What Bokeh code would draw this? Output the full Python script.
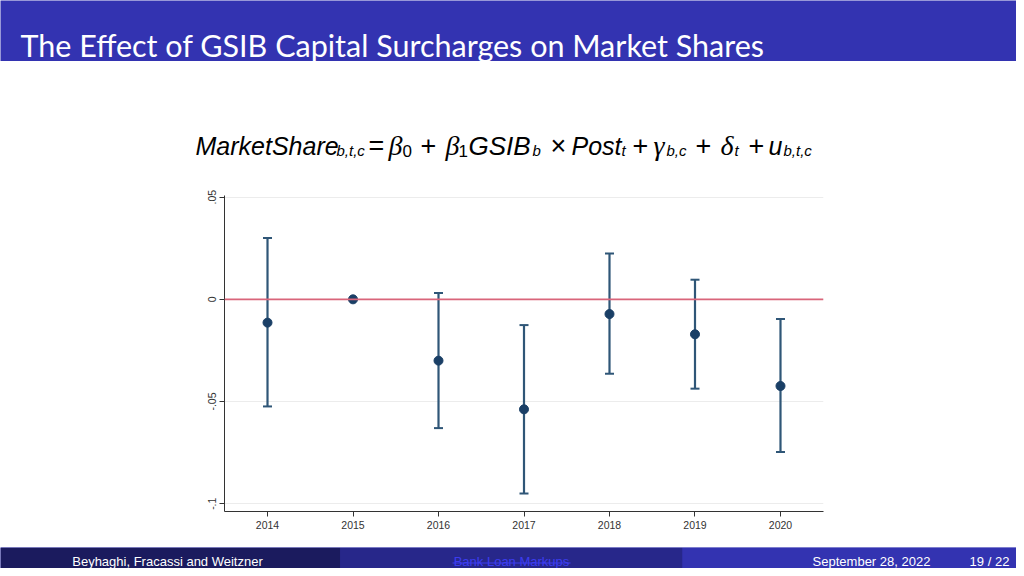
import numpy as np
from bokeh.plotting import figure
from bokeh.layouts import column
from bokeh.models import Range1d, FixedTicker, CustomJSTickFormatter, ColumnDataSource, Whisker, TeeHead, Span
from bokeh.core.properties import value
from bokeh.embed import file_html
from bokeh.resources import INLINE

# ---------------- data ----------------
years = [2014, 2015, 2016, 2017, 2018, 2019, 2020]
coef = [-0.0114, 0.0, -0.0300, -0.0538, -0.0072, -0.0171, -0.0424]
ci_low = [-0.0524, None, -0.0630, -0.0950, -0.0364, -0.0437, -0.0747]
ci_high = [0.0300, None, 0.0031, -0.0126, 0.0224, 0.0096, -0.0096]
y_ticks = [-0.1, -0.05, 0.0, 0.05]
x_ticks = years

title_text = "The Effect of GSIB Capital Surcharges on Market Shares"
footer_left = "Beyhaghi, Fracassi and Weitzner"
footer_mid = "Bank Loan Markups"
footer_date = "September 28, 2022"
footer_page = "19 / 22"

BANNER = "#3333B1"
NAVY = "#1a3f66"
BAR = "#2f5677"
W = 1016

def blank(h, yr):
    p = figure(width=W, height=h, output_backend="svg", toolbar_location=None,
               x_range=Range1d(0, W), y_range=Range1d(*yr),
               min_border=0, min_border_left=0, min_border_right=0,
               min_border_top=0, min_border_bottom=0, frame_align=False)
    p.axis.visible = False
    p.grid.visible = False
    p.outline_line_color = None
    p.title.visible = False
    return p

# ---------------- header ----------------
head = blank(61, (61, 0))
head.background_fill_color = BANNER
head.border_fill_color = BANNER
head.text(x=[20], y=[44], text=[title_text], text_color="white",
          text_font=value("Lato"), text_font_size="30.5px",
          text_baseline="alphabetic", text_align="left")

# ---------------- formula ----------------
form = blank(119, (180, 61))
form.background_fill_color = "white"
form.border_fill_color = "white"
MB, SB = 145, 150
SANS, SERIF = "Liberation Sans", "Liberation Serif"
pieces = [
    # (x, y, text, font, style, size)
    (195, MB, "MarketShare", SANS, "italic", "25px"),
    (336, SB, "b,t,c", SANS, "italic", "15px"),
    (368, MB, "=", SANS, "normal", "27px"),
    (388, MB, "\u03b2", SERIF, "italic", "28px"),
    (402, SB, "0", SANS, "normal", "17px"),
    (420, MB, "+", SANS, "normal", "27px"),
    (445, MB, "\u03b2", SERIF, "italic", "28px"),
    (458, SB, "1", SANS, "normal", "17px"),
    (468, MB, "GSIB", SANS, "italic", "26px"),
    (532, SB, "b", SANS, "italic", "15px"),
    (550, MB, "\u00d7", SANS, "normal", "27px"),
    (571, MB, "Post", SANS, "italic", "25px"),
    (621, SB, "t", SANS, "italic", "15px"),
    (632, MB, "+", SANS, "normal", "27px"),
    (653, MB, "\u03b3", SERIF, "italic", "28px"),
    (666, SB, "b,c", SANS, "italic", "15px"),
    (695, MB, "+", SANS, "normal", "27px"),
    (720, MB, "\u03b4", SERIF, "italic", "28px"),
    (734, SB, "t", SANS, "italic", "15px"),
    (748, MB, "+", SANS, "normal", "27px"),
    (768, MB, "u", SANS, "italic", "25px"),
    (783, SB, "b,t,c", SANS, "italic", "15px"),
]
for x, y, t, f, s, sz in pieces:
    form.text(x=[x], y=[y], text=[t], text_font=value(f), text_font_style=s,
              text_font_size=sz, text_color="black",
              text_baseline="alphabetic", text_align="left")

# ---------------- chart ----------------
ch = figure(width=W, height=367, output_backend="svg", toolbar_location=None,
            x_range=Range1d(2013.497, 2020.503), y_range=Range1d(-0.1038, 0.0508),
            min_border_left=224, min_border_right=193, min_border_top=15, min_border_bottom=36,
            frame_align=False)
ch.title.visible = False
ch.outline_line_color = None
ch.background_fill_color = "white"
ch.border_fill_color = "white"

ch.xgrid.visible = False
ch.ygrid.grid_line_color = "#ececec"
ch.ygrid.grid_line_width = 1
ch.ygrid.ticker = FixedTicker(ticks=y_ticks)

ch.yaxis.ticker = FixedTicker(ticks=y_ticks)
ch.yaxis.formatter = CustomJSTickFormatter(code="""
    if (Math.abs(tick) < 1e-12) return "0";
    let s = tick.toFixed(2).replace(/^(-?)0\\./, "$1.");
    s = s.replace(/0$/, "");
    return s;
""")
ch.yaxis.major_label_orientation = "vertical"
ch.xaxis.ticker = FixedTicker(ticks=x_ticks)
for ax in (ch.xaxis, ch.yaxis):
    ax.axis_line_color = "#333333"
    ax.axis_line_width = 1
    ax.major_tick_line_color = "#333333"
    ax.major_tick_out = 5
    ax.major_tick_in = 0
    ax.minor_tick_line_color = None
    ax.major_label_text_font = "Liberation Sans"
    ax.major_label_text_font_size = "10.5px"
    ax.major_label_text_color = "#333333"
ch.xaxis.major_label_standoff = 4
ch.yaxis.major_label_standoff = 3

zero = Span(location=0, dimension="width", line_color="#d9657a", line_width=1.6)
ch.add_layout(zero)

mask = [lo is not None for lo in ci_low]
wsrc = ColumnDataSource(dict(
    x=[x for x, m in zip(years, mask) if m],
    lo=[v for v, m in zip(ci_low, mask) if m],
    hi=[v for v, m in zip(ci_high, mask) if m],
))
wh = Whisker(source=wsrc, base="x", lower="lo", upper="hi", dimension="height",
             line_color=BAR, line_width=2.2,
             upper_head=TeeHead(size=9, line_color=BAR, line_width=2),
             lower_head=TeeHead(size=9, line_color=BAR, line_width=2))
ch.add_layout(wh)

psrc = ColumnDataSource(dict(x=years, y=coef))
ch.scatter("x", "y", source=psrc, size=9, fill_color=NAVY, line_color=NAVY)

# ---------------- footer ----------------
foot = blank(21, (21, 0))
foot.background_fill_color = "#3333B1"
foot.border_fill_color = "#3333B1"
foot.quad(left=[0], right=[340], bottom=[21], top=[0], fill_color="#1b1b5e", line_color=None)
foot.quad(left=[340], right=[682], bottom=[21], top=[0], fill_color="#27278a", line_color=None)
foot.quad(left=[682], right=[W], bottom=[21], top=[0], fill_color="#3333B1", line_color=None)
for x, t, col in [(167, footer_left, "white"), (511, footer_mid, "#3c3cf0"),
                  (871, footer_date, "white"), (989, footer_page, "white")]:
    foot.text(x=[x], y=[14], text=[t], text_color=col, text_font=value("Liberation Sans"),
              text_font_size="13px", text_baseline="alphabetic", text_align="center")
foot.segment(x0=[452], x1=[570], y0=[15.5], y1=[15.5], line_color="#3c3cf0", line_width=1)

layout = column(head, form, ch, foot, spacing=0)
open("out.html", "w").write(file_html(layout, INLINE))
